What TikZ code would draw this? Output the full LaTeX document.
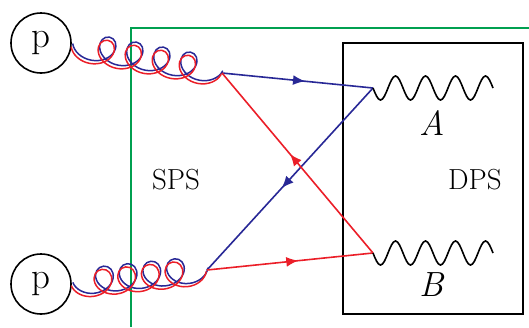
\documentclass[tikz,border=0pt]{standalone}
\usetikzlibrary{decorations.pathmorphing,decorations.markings,arrows.meta}
\definecolor{qblue}{RGB}{40,40,150}
\definecolor{qred}{RGB}{235,30,40}
\definecolor{sgreen}{RGB}{0,160,80}
\tikzset{
  proton/.style={draw, circle, minimum size=60pt, inner sep=0pt, line width=1.6pt,
    font=\fontsize{37}{40}\selectfont},
  gluon/.style={decorate, line width=1.5pt,
    decoration={coil, amplitude=13pt, segment length=#1, aspect=1.1, mirror}},
  gluon/.default=27.5pt,
  quark/.style={line width=1.6pt, postaction={decorate,
    decoration={markings, mark=at position 0.55 with {\arrow{Latex[length=12pt,width=10pt]}}}}},
  boson/.style={line width=1.6pt},
  blobtext/.style={font=\fontsize{29}{34}\selectfont},
  statetext/.style={font=\fontsize{35}{40}\selectfont\itshape},
  upper/.style={qblue, transform canvas={shift={(1pt,1.6pt)}}},
  lower/.style={qred, transform canvas={shift={(-0.5pt,-1.6pt)}}},
}
\begin{document}
\begin{tikzpicture}[x=1pt,y=-1pt]
\useasboundingbox (0,0) rectangle (529,327);
% frames
\draw[sgreen, line width=1.7pt] (131,327) -- (131,28) -- (529,28);
\draw[line width=1.7pt] (343,43) rectangle (523,314);
% protons and vertices
\node[proton] (pTop) at (41,43) {p};
\node[proton] (pBot) at (41,284) {p};
\coordinate (v1) at (222,73);
\coordinate (v2) at (207,270);
\coordinate (a) at (373,88);
\coordinate (b) at (373,253);
% gluons
\draw[gluon, upper] (pTop.-4) -- (v1);
\draw[gluon, lower] (pTop.-4) -- (v1);
\draw[gluon=23.8pt, upper] (pBot.east) -- (v2);
\draw[gluon=23.8pt, lower] (pBot.east) -- (v2);
% partons
\draw[quark, qblue] (v1) -- (a);
\draw[quark, qblue] (a) -- (v2);
\draw[quark, qred] (v2) -- (b);
\draw[quark, qred] (b) -- (v1);
% final states
\draw[boson] (a) \foreach \i in {1,...,4} {sin ++(7.5,12) cos ++(7.5,-12) sin ++(7.5,-12) cos ++(7.5,12)};
\draw[boson] (b) \foreach \i in {1,...,4} {sin ++(7.5,12) cos ++(7.5,-12) sin ++(7.5,-12) cos ++(7.5,12)};
\node[statetext] (labA) at (432,123) {A};
\node[statetext] (labB) at (432,285) {B};
\node[blobtext] (sps) at (176,180) {SPS};
\node[blobtext] (dps) at (475,180) {DPS};
\end{tikzpicture}
\end{document}
